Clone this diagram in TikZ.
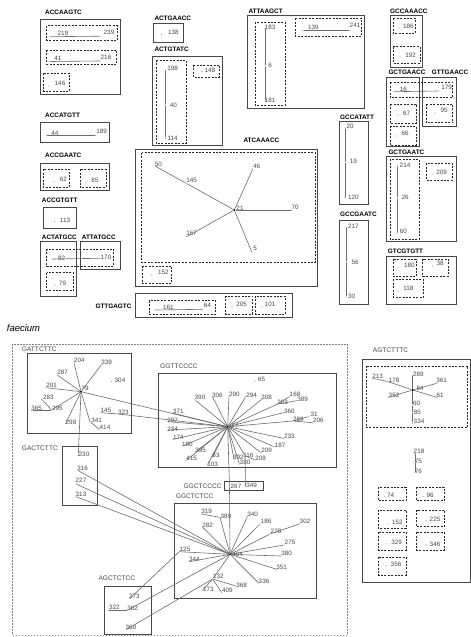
\documentclass[tikz,border=0pt]{standalone}
\usepackage{fontspec}
\setmainfont{Liberation Sans}
\begin{document}
\tikzset{
 box/.style={draw=black!72, line width=0.9pt},
 dbox/.style={draw=black!85, line width=0.7pt, dash pattern=on 2pt off 1.4pt},
 obox/.style={draw=black!50, line width=0.6pt, dash pattern=on 1.5pt off 1.5pt},
 edge/.style={draw=black!58, line width=0.6pt},
 dot/.style={circle, fill=black!40, inner sep=0pt, minimum size=1.4pt},
 hub/.style={circle, fill=black, inner sep=0pt, minimum size=2.2pt},
 lbl/.style={font=\fontsize{6.3}{7}\selectfont, text=black!72, inner sep=0pt},
 ttl/.style={font=\fontsize{6.4}{7}\selectfont\bfseries, anchor=west, inner sep=0pt},
 ttlg/.style={font=\fontsize{6.6}{7}\selectfont, text=black!72, anchor=west, inner sep=0pt},
}
\newcommand\vx[4]{\node[dot] (#1) at (#2) {}; \node[lbl] (#1l) at (#3) {#4};}
\newcommand\hx[4]{\node[hub] (#1) at (#2) {}; \node[lbl] (#1l) at (#3) {#4};}
\begin{tikzpicture}[x=1pt,y=-1pt]
\useasboundingbox[fill=white] (0,0) rectangle (471,637);
% ---------------- ACCAAGTC
\node[ttl] (tACCAAGTC) at (45,12) {ACCAAGTC};
\draw[box] (40,19.3) rectangle (120.7,94.3);
\draw[dbox] (46.7,25.7) rectangle (117.3,40);
\vx{a219}{50,36.7}{63,33}{219}
\vx{a239}{100,36.2}{109,32}{239}
\draw[edge] (a219)--(a239);
\draw[dbox] (46.7,50) rectangle (116.7,64);
\vx{a41}{50,61.5}{58,58}{41}
\vx{a216}{100,61}{106,57}{216}
\draw[edge] (a41)--(a216);
\draw[dbox] (43.3,73.3) rectangle (69.3,91);
\vx{a146}{49,86}{60,83}{146}
% ---------------- ACCATGTT
\node[ttl] (tACCATGTT) at (45,115) {ACCATGTT};
\draw[box] (40,122.3) rectangle (109.3,142.7);
\vx{b44}{46,135}{55,133}{44}
\vx{b189}{95.7,135}{101.7,131}{189}
\draw[edge] (b44)--(b189);
% ---------------- ACCGAATC
\node[ttl] (tACCGAATC) at (45,155.7) {ACCGAATC};
\draw[box] (40,163.3) rectangle (109.3,190.7);
\draw[dbox] (43.3,169.3) rectangle (69.3,187.3);
\vx{c62}{54,182}{63.3,179.3}{62}
\draw[dbox] (80,169.3) rectangle (106,187.3);
\vx{c85}{86,182.7}{95,180}{85}
% ---------------- ACCGTGTT
\node[ttl] (tACCGTGTT) at (41.7,200) {ACCGTGTT};
\draw[box] (43.3,207.3) rectangle (76.7,228.3);
\vx{d113}{54.7,221.7}{65,220}{113}
% ---------------- ACTATGCC / ATTATGCC
\node[ttl] (tACTATGCC) at (41.7,237.7) {ACTATGCC};
\node[ttl] (tATTATGCC) at (81.7,237.7) {ATTATGCC};
\draw[box] (40,241.7) rectangle (76.7,296.7);
\draw[box] (80,241.7) rectangle (120.7,269);
\draw[dbox] (46.7,249) rectangle (113.3,266);
\vx{e82}{52.3,259}{61.7,258.3}{82}
\vx{e170}{100,258.3}{106,257.3}{170}
\draw[edge] (e82)--(e170);
\draw[dbox] (46.7,272.7) rectangle (73.3,290.7);
\vx{e79}{55,285}{62.7,283.3}{79}
% ---------------- GTTGAGTC
\node[ttl, anchor=east] (tGTTGAGTC) at (131.7,306) {GTTGAGTC};
\draw[box] (135,293.3) rectangle (292.3,317.3);
\draw[dbox] (149,300.7) rectangle (215.7,314);
\vx{f161}{155,310}{168.3,307.3}{161}
\vx{f64}{202.7,309.3}{207.3,305.7}{64}
\draw[edge] (f161)--(f64);
\draw[dbox] (225.7,296) rectangle (252.3,314);
\vx{f205}{232,307}{241.7,304.3}{205}
\draw[dbox] (255.7,296) rectangle (285,314);
\vx{f101}{262,306.7}{270,304}{101}
% ---------------- ATCAAACC
\node[ttl] (tATCAAACC) at (243.3,140) {ATCAAACC};
\draw[box] (135,149) rectangle (317.3,286.7);
\draw[dbox] (141.7,152.7) rectangle (315,262.3);
\hx{g21}{234.3,210}{240,208.3}{21}
\vx{g50}{155,166}{158.3,164}{50}
\vx{g145}{186,183.2}{191.7,180}{145}
\vx{g46}{252.7,169.3}{256.7,166}{46}
\vx{g70}{291.7,210}{295,207.3}{70}
\vx{g5}{251.7,251.7}{255,248.3}{5}
\vx{g167}{186.7,236.7}{191.7,233.3}{167}
\draw[edge] (g50)--(g145)--(g21);
\draw[edge] (g46)--(g21);
\draw[edge] (g70)--(g21);
\draw[edge] (g5)--(g21);
\draw[edge] (g167)--(g21);
\draw[dbox] (142.3,266) rectangle (171.7,283.3);
\vx{g152}{151.7,275}{163.3,272.7}{152}
% ---------------- ACTGAACC
\node[ttl] (tACTGAACC) at (154.3,18.3) {ACTGAACC};
\draw[box] (153.3,23.3) rectangle (183.3,42.7);
\vx{h138}{161.7,34.3}{173.3,32.7}{138}
% ---------------- ACTGTATC
\node[ttl] (tACTGTATC) at (154.3,49.3) {ACTGTATC};
\draw[box] (152.7,56) rectangle (222.7,145.7);
\draw[dbox] (156,60) rectangle (186,143.3);
\vx{i198}{165.3,70}{172.7,68.3}{198}
\vx{i40}{165.3,105}{173.3,105}{40}
\vx{i114}{165.3,138.3}{172.7,138.3}{114}
\draw[edge] (i198)--(i40)--(i114);
\draw[dbox] (193.3,65) rectangle (219.3,77.3);
\vx{i148}{201.7,71.7}{210,70.7}{148}
% ---------------- ATTAAGCT
\node[ttl] (tATTAAGCT) at (248.3,11.7) {ATTAAGCT};
\draw[box] (247.3,15.7) rectangle (364,108.3);
\draw[dbox] (255,22.3) rectangle (285,105);
\vx{j183}{265,28.3}{270,27.3}{183}
\vx{j6}{265,66}{270,65}{6}
\vx{j181}{265,101}{270,100}{181}
\draw[edge] (j183)--(j6)--(j181);
\draw[dbox] (295,18.3) rectangle (361.7,36);
\vx{j139}{302.7,30.7}{313.3,27.7}{139}
\vx{j241}{350,30.7}{355,25.7}{241}
\draw[edge] (j139)--(j241);
% ---------------- GCCAAACC
\node[ttl] (tGCCAAACC) at (390,11) {GCCAAACC};
\draw[box] (390,15) rectangle (422.7,67.3);
\draw[dbox] (393.3,18.3) rectangle (415,33.3);
\vx{k186}{399,28}{408.3,26}{186}
\draw[dbox] (393.3,46.7) rectangle (420,63.3);
\vx{k192}{400,57}{410.7,55}{192}
% ---------------- GCTGAACC / GTTGAACC
\node[ttl] (tGCTGAACC) at (388.3,72.7) {GCTGAACC};
\node[ttl] (tGTTGAACC) at (431.7,72.7) {GTTGAACC};
\draw[box] (386,77.3) rectangle (419.3,146.7);
\draw[box] (422.7,77.3) rectangle (456,126);
\draw[dbox] (390,82.3) rectangle (452.7,97.3);
\vx{l16}{394,91.7}{403.3,89.3}{16}
\vx{l179}{438.3,91}{446.7,87.7}{179}
\draw[edge] (l16)--(l179);
\draw[dbox] (390,104) rectangle (416,123.3);
\vx{l67}{398,115}{406.7,113.3}{67}
\draw[dbox] (426,104) rectangle (452.7,122.7);
\vx{l95}{435,113}{444,110}{95}
\draw[dbox] (390,126) rectangle (416,145);
\vx{l66}{397,136}{405,133.3}{66}
% ---------------- GCCATATT
\node[ttl] (tGCCATATT) at (340,117.3) {GCCATATT};
\draw[box] (339.3,121.7) rectangle (368.3,204);
\vx{m20}{345,128}{350,126}{20}
\vx{m19}{345,161.7}{353.3,161.7}{19}
\vx{m120}{345,197.7}{353.3,197.7}{120}
\draw[edge] (m20)--(m19)--(m120);
% ---------------- GCCGAATC
\node[ttl] (tGCCGAATC) at (340,214) {GCCGAATC};
\draw[box] (339.3,220.7) rectangle (368.3,304);
\vx{n217}{346.7,227.5}{353.3,226.7}{217}
\vx{n56}{346.7,262.3}{355,262.3}{56}
\vx{n30}{346.7,297}{351.7,296}{30}
\draw[edge] (n217)--(n56)--(n30);
% ---------------- GCTGAATC
\node[ttl] (tGCTGAATC) at (388.3,152.3) {GCTGAATC};
\draw[box] (386.7,156.7) rectangle (456,241.7);
\draw[dbox] (390,159.3) rectangle (419.3,239.3);
\vx{o214}{397.3,166}{405,165}{214}
\vx{o26}{397.3,198}{405,197.7}{26}
\vx{o60}{397.3,232.5}{403.3,231.7}{60}
\draw[edge] (o214)--(o26)--(o60);
\draw[dbox] (426.7,163.3) rectangle (452.3,180);
\vx{o209}{433,174}{441.7,172.3}{209}
% ---------------- GTCGTGTT
\node[ttl] (tGTCGTGTT) at (387.7,251.7) {GTCGTGTT};
\draw[box] (386.7,256) rectangle (456,304);
\draw[dbox] (393.3,259) rectangle (416,276.7);
\vx{p180}{398,268}{409.3,265.7}{180}
\draw[dbox] (422.7,259) rectangle (448.3,276);
\vx{p38}{432.7,266}{440,263.3}{38}
\draw[dbox] (393.3,279.3) rectangle (423.3,297.3);
\vx{p118}{398,291}{408.3,288.7}{118}

% ================= faecium
\node[font=\fontsize{9.5}{10}\selectfont\itshape, anchor=west, inner sep=0pt] (tfaecium) at (6.7,328.3) {faecium};
\draw[obox] (12.3,344.3) rectangle (347.3,635);
% ---------------- GATTCTTC
\node[ttlg] (tGATTCTTC) at (21.7,349.3) {GATTCTTC};
\draw[box] (27.7,353.3) rectangle (131.7,433.3);
\hx{q79}{81,391.7}{85,388.3}{79}
\vx{q204}{74,362.7}{79.3,360.7}{204}
\vx{q339}{101.7,364.3}{106.7,362.7}{339}
\vx{q287}{57.3,375}{62.7,372.7}{287}
\vx{q304}{111.7,381.7}{120,380}{304}
\vx{q201}{46,387.7}{51.7,385}{201}
\vx{q283}{41.7,399.3}{48.3,397.3}{283}
\vx{q365}{31.7,410}{36.7,408.3}{365}
\vx{q295}{51.7,410}{57.3,408.3}{295}
\vx{q298}{65.7,423.3}{71,422.3}{298}
\vx{q341}{90,421.7}{96.7,420.7}{341}
\vx{q414}{99.3,429.3}{105,427.3}{414}
\vx{q145}{101,412.7}{106,410.3}{145}
\vx{q323}{118.3,414}{123.3,412}{323}
\draw[edge] (q204)--(q79);
\draw[edge] (q339)--(q79);
\draw[edge] (q287)--(q79);
\draw[edge] (q201)--(q79);
\draw[edge] (q283)--(q295);
\draw[edge] (q365)--(q295);
\draw[edge] (q295)--(q79);
\draw[edge] (q298)--(q79);
\draw[edge] (q79)--(q341)--(q414);
\draw[edge] (q145)--(q323);
% ---------------- GACTCTTC
\node[ttlg] (tGACTCTTC) at (21.7,448.3) {GACTCTTC};
\draw[box] (62.3,446) rectangle (97.3,505.7);
\vx{r230}{78.3,455.5}{84,454.3}{230}
\vx{r316}{78.3,470.7}{82.7,468.3}{316}
\vx{r227}{76,484}{81,480.7}{227}
\vx{r313}{76,496.7}{81,494}{313}
\draw[edge] (q79)--(r230);
% ---------------- GGTTCCCC
\node[ttlg] (tGGTTCCCC) at (160,366) {GGTTCCCC};
\draw[box] (158.3,373.3) rectangle (336,467.7);
\hx{s17}{227.7,426.7}{235,425}{17}
\vx{s65}{255,381}{261.7,379.3}{65}
\vx{s390}{195,400}{200,397.3}{390}
\vx{s306}{212.7,397.3}{217.3,395.7}{306}
\vx{s290}{229,396.7}{234.3,394}{290}
\vx{s294}{245.7,396.7}{251.7,395}{294}
\vx{s308}{261.7,399.3}{266.7,397.3}{308}
\vx{s168}{289.3,396.7}{295,394}{168}
\vx{s389}{296.7,400.7}{302.7,399.3}{389}
\vx{s263}{277.7,404}{282.7,402}{263}
\vx{s360}{283.3,412.7}{289.3,411}{360}
\vx{s31}{308.3,416.7}{314,414}{31}
\vx{s206}{312.7,422.7}{318.3,420}{206}
\vx{s289}{292.7,421}{298.3,419.3}{289}
\vx{s233}{283.3,438.3}{289.3,436.7}{233}
\vx{s187}{274,446.7}{280,445}{187}
\vx{s209}{261,452.7}{266.7,450.7}{209}
\vx{s208}{255,460}{260.7,458.3}{208}
\vx{s116}{245,455.5}{248.3,455}{116}
\vx{s392}{234,459}{238.3,457.3}{392}
\vx{s380}{239.3,464}{245,462.7}{380}
\vx{s63}{212.7,456.7}{216,455}{63}
\vx{s103}{207.3,465}{212.7,464}{103}
\vx{s395}{196,451.7}{200.7,450}{395}
\vx{s415}{186,460.7}{191.7,458.3}{415}
\vx{s180}{182.7,446}{187.3,444}{180}
\vx{s174}{173.3,439.3}{178.3,437.3}{174}
\vx{s234}{168.3,430}{172.7,429}{234}
\vx{s297}{168.3,421.7}{172.7,420}{297}
\vx{s371}{173.3,413.3}{178.3,411}{371}
\foreach \n in {390,306,290,294,308,263,360,289,233,187,209,116,392,380,63,103,395,415,180,174,234,297,371}
  {\draw[edge] (s\n)--(s17);}
\draw[edge] (s263)--(s168);
\draw[edge] (s263)--(s389);
\draw[edge] (s289)--(s31);
\draw[edge] (s289)--(s206);
\draw[edge] (s116)--(s208);
\draw[edge] (q79)--(s17);
\draw[edge] (q323)--(s17);
% ---------------- GGCTCCCC
\node[ttlg] (tGGCTCCCC) at (183.3,486) {GGCTCCCC};
\draw[box] (224.3,481.7) rectangle (263.3,490.7);
\vx{t267}{229.5,487.3}{236,486}{267}
\vx{t349}{245.5,486.7}{251.7,485}{349}
\draw[edge] (s17)--(t267);
\draw[edge] (s116)--(t349);
% ---------------- GGCTCTCC
\node[ttlg] (tGGCTCTCC) at (175.7,496) {GGCTCTCC};
\draw[box] (174,503.3) rectangle (316.7,598.3);
\hx{u404}{230,554.3}{237.5,554.3}{404}
\vx{u319}{201.7,514}{206.7,511.7}{319}
\vx{u389}{220,517.3}{226,516}{389}
\vx{u340}{247.3,516.7}{252.7,514}{340}
\vx{u186}{260,524}{266,521.7}{186}
\vx{u302}{299.3,524}{305,521.7}{302}
\vx{u278}{270,534}{276,531.7}{278}
\vx{u282}{202.7,527.3}{207.7,525.7}{282}
\vx{u275}{284,545}{290,542.7}{275}
\vx{u380}{280.7,556}{286.7,553.3}{380}
\vx{u351}{276.7,569.3}{281.7,567.7}{351}
\vx{u336}{258.3,582.7}{264,581.7}{336}
\vx{u368}{236,586}{241.7,585}{368}
\vx{u132}{212.7,579}{218.3,576.7}{132}
\vx{u173}{202.7,590}{208.3,589}{173}
\vx{u409}{221.7,592.7}{227.3,590.7}{409}
\vx{u125}{179.3,551.7}{185,549}{125}
\vx{u344}{189.3,561.7}{194.3,559.3}{344}
\draw[edge] (t267)--(u404);
\draw[edge] (u319)--(u389)--(u404);
\foreach \n in {340,186,278,282,275,380,351,336,132,125,344}
  {\draw[edge] (u\n)--(u404);}
\draw[edge] (u302)--(u278);
\draw[edge] (u132)--(u368);
\draw[edge] (u132)--(u173);
\draw[edge] (u132)--(u409);
\draw[edge] (r316)--(u404);
\draw[edge] (r227)--(u404);
\draw[edge] (r313)--(u404);
% ---------------- AGCTCTCC
\node[ttlg] (tAGCTCTCC) at (98.3,578.3) {AGCTCTCC};
\draw[box] (104.3,586) rectangle (151,634);
\vx{v273}{130,598.3}{134.3,596.7}{273}
\vx{v322}{108.3,610}{114.3,607.3}{322}
\vx{v382}{127.7,610}{132.7,608.3}{382}
\vx{v360}{126.7,629.3}{131,627.3}{360}
\draw[edge] (v322)--(v382);
\draw[edge] (u125)--(v273);
\draw[edge] (v382)--(u404);
\draw[edge] (v360)--(u132);
% ---------------- AGTCTTTC
\node[ttlg] (tAGTCTTTC) at (372.7,350) {AGTCTTTC};
\draw[box] (362.7,359.3) rectangle (470,582.7);
\draw[dbox] (366,366) rectangle (467.7,427.3);
\hx{w84}{412.7,390}{420,388.3}{84}
\vx{w289}{412.7,375}{418.3,374}{289}
\vx{w213}{372.7,378.3}{377.7,376}{213}
\vx{w178}{388.3,381.7}{394,380}{178}
\vx{w361}{436.7,383.3}{441.7,380.7}{361}
\vx{w352}{388.3,397.3}{394,395}{352}
\vx{w61}{436.7,397.3}{440,395.3}{61}
\vx{w60}{412.7,405}{416.7,403.3}{60}
\vx{w85}{412.7,413.3}{417.3,412.3}{85}
\vx{w334}{412.7,423.3}{419,421.7}{334}
\draw[edge] (w289)--(w84)--(w60)--(w85)--(w334);
\draw[edge] (w213)--(w178)--(w84);
\draw[edge] (w361)--(w84);
\draw[edge] (w352)--(w84);
\draw[edge] (w61)--(w84);
\vx{w218}{415,453.3}{419,451.7}{218}
\vx{w75}{415,462.5}{418.3,461.7}{75}
\vx{w76}{415,472.7}{418.3,471.7}{76}
\draw[edge] (w218)--(w75)--(w76);
\draw[dbox] (378.3,487.3) rectangle (406,500.7);
\vx{w74}{385,496.7}{390.7,495}{74}
\draw[dbox] (416.7,487.3) rectangle (444.3,500.7);
\vx{w96}{423,496.7}{430,495}{96}
\draw[dbox] (378.3,510) rectangle (406,528.3);
\vx{w152}{388,524}{397.3,522.7}{152}
\draw[dbox] (416.7,510) rectangle (444.3,526.7);
\vx{w225}{426,520.7}{435,519.3}{225}
\draw[dbox] (378.3,532.3) rectangle (406,550);
\vx{w329}{386,544}{396.7,542.7}{329}
\draw[dbox] (416.7,532.3) rectangle (444.3,550);
\vx{w346}{426,545}{435,544}{346}
\draw[dbox] (378.3,557.3) rectangle (406,575);
\vx{w356}{386,565.7}{396,564}{356}
\end{tikzpicture}
\end{document}
